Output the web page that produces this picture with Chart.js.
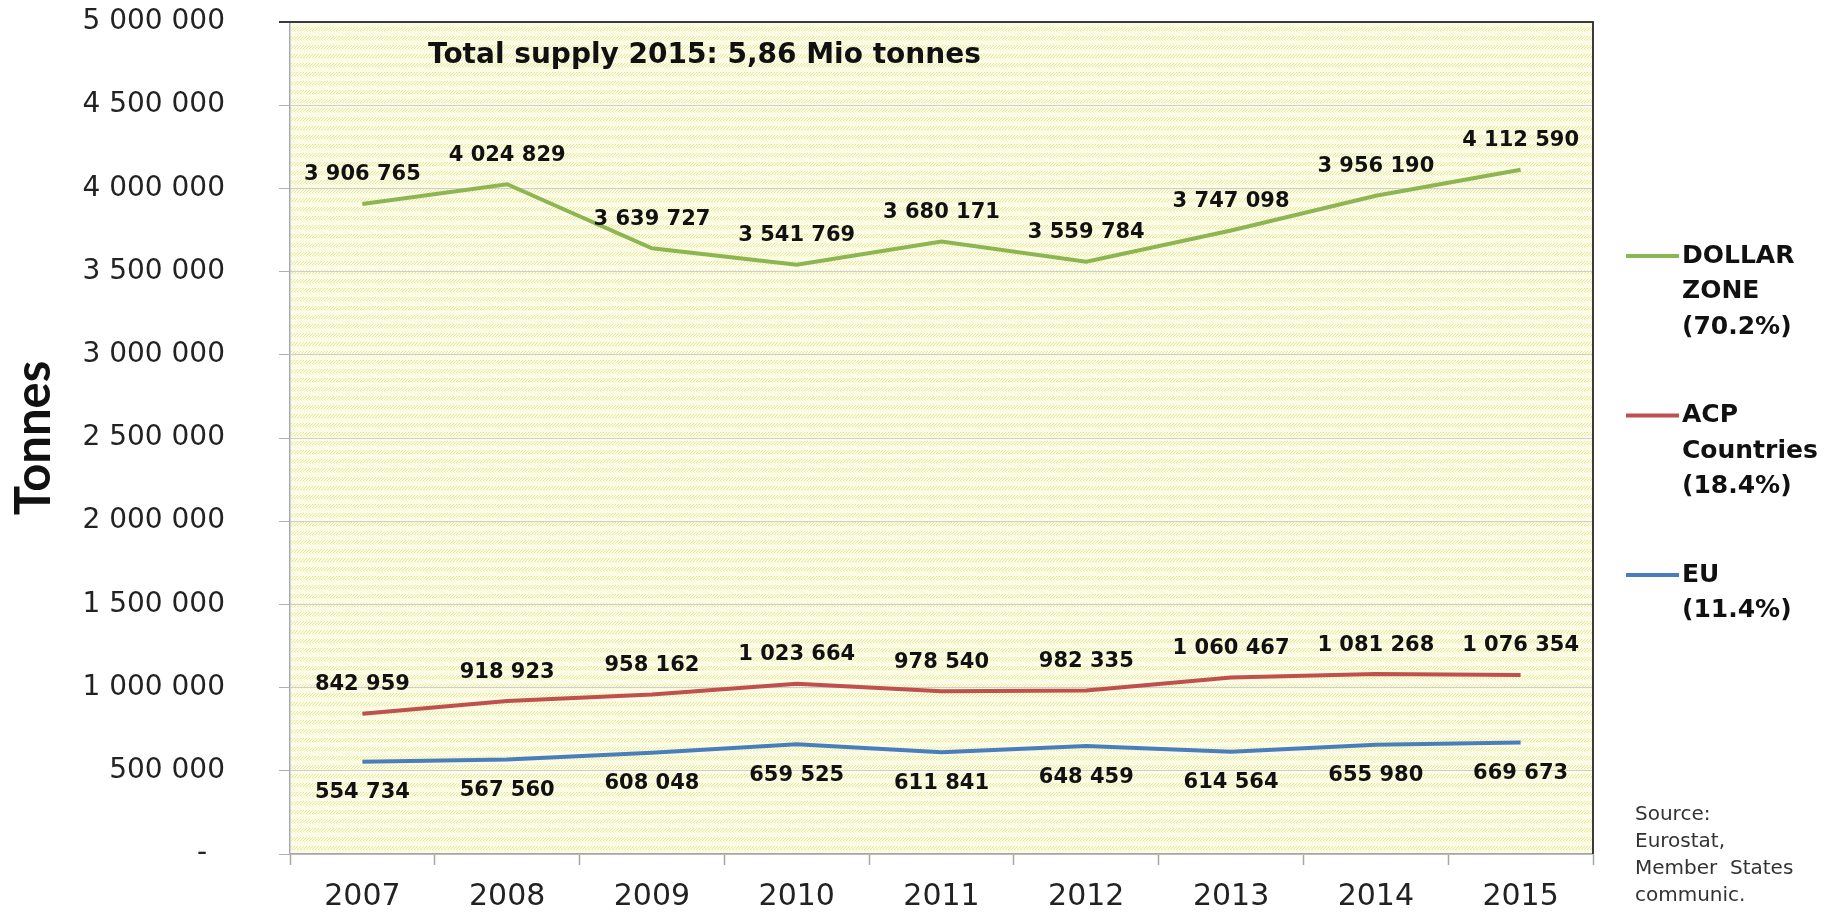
<!DOCTYPE html>
<html>
<head>
<meta charset="utf-8">
<script src="https://cdn.jsdelivr.net/npm/chart.js@4.4.0/dist/chart.umd.min.js"></script>
<style>
  body { margin: 0; background: #fff; }
  #wrap { width: 1839px; height: 913px; }
</style>
</head>
<body>
<div id="wrap"><canvas id="supply" width="1839" height="913"></canvas></div>
<script>
const years = ["2007", "2008", "2009", "2010", "2011", "2012", "2013", "2014", "2015"];

const dollarZone = [3906765, 4024829, 3639727, 3541769, 3680171, 3559784, 3747098, 3956190, 4112590];
const acpCountries = [842959, 918923, 958162, 1023664, 978540, 982335, 1060467, 1081268, 1076354];
const eu = [554734, 567560, 608048, 659525, 611841, 648459, 614564, 655980, 669673];

const legendLines = [
  ["DOLLAR", "ZONE", "(70.2%)"],
  ["ACP", "Countries", "(18.4%)"],
  ["EU", "(11.4%)"],
];

const title = "Total supply 2015: 5,86 Mio tonnes";
const sourceLines = ["Source:", "Eurostat,", "Member  States", "communic."];

// thousands separated by spaces, like the original
const fmt = (v) => String(v).replace(/\B(?=(\d{3})+(?!\d))/g, " ");

// yellow hatched plot background
const tile = document.createElement("canvas");
tile.width = 9;
tile.height = 9;
const tc = tile.getContext("2d");
tc.fillStyle = "#fcfce6";
tc.fillRect(0, 0, 9, 9);
tc.fillStyle = "#e4ea9a";
for (let y = 0; y < 4; y++) {
  for (let x = 0; x < 9; x++) {
    if ((x + y) % 3 === 0) tc.fillRect(x, y, 1, 1);
  }
}
tc.fillStyle = "#f2f5c6";
for (let x = 0; x < 9; x++) if (x % 3 === 1) tc.fillRect(x, 4, 1, 1);

const ctx = document.getElementById("supply");
const hatch = ctx.getContext("2d").createPattern(tile, "repeat");

const bgPlugin = {
  id: "plotBg",
  beforeDraw(chart) {
    const { ctx, chartArea: a } = chart;
    ctx.save();
    ctx.fillStyle = hatch;
    ctx.fillRect(a.left, a.top, a.right - a.left, a.bottom - a.top);
    ctx.restore();
  },
  afterDraw(chart) {
    const { ctx, chartArea: a } = chart;
    ctx.save();
    // top and right frame
    ctx.strokeStyle = "#3a3a3a";
    ctx.lineWidth = 2;
    ctx.beginPath();
    ctx.moveTo(a.left - 11, a.top);
    ctx.lineTo(a.right, a.top);
    ctx.lineTo(a.right, a.bottom);
    ctx.stroke();

    // title
    ctx.fillStyle = "#111";
    ctx.font = "bold 28px 'DejaVu Sans'";
    ctx.textAlign = "left";
    ctx.textBaseline = "middle";
    ctx.fillText(title, 428, 56);

    // legend
    const x0 = 1626;
    ctx.font = "bold 25px 'DejaVu Sans'";
    chart.data.datasets.forEach((ds, i) => {
      const y0 = 256 + i * 159.5;
      ctx.strokeStyle = ds.borderColor;
      ctx.lineWidth = 4;
      ctx.beginPath();
      ctx.moveTo(x0, y0);
      ctx.lineTo(x0 + 53, y0);
      ctx.stroke();
      legendLines[i].forEach((t, k) => {
        ctx.fillText(t, x0 + 56, y0 + k * 35.7);
      });
    });

    // source
    ctx.fillStyle = "#333";
    ctx.font = "20px 'DejaVu Sans'";
    sourceLines.forEach((t, k) => ctx.fillText(t, 1635, 815 + k * 27));
    ctx.restore();
  },
};

const labelPlugin = {
  id: "pointLabels",
  afterDatasetsDraw(chart) {
    const { ctx } = chart;
    ctx.save();
    ctx.font = "bold 21px 'DejaVu Sans'";
    ctx.fillStyle = "#111";
    ctx.textAlign = "center";
    ctx.textBaseline = "middle";
    chart.data.datasets.forEach((ds, i) => {
      const meta = chart.getDatasetMeta(i);
      const below = ds.labelBelow;
      meta.data.forEach((pt, j) => {
        const y = below ? pt.y + 31 : pt.y - 29;
        ctx.fillText(fmt(ds.data[j]), pt.x, y);
      });
    });
    ctx.restore();
  },
};

new Chart(ctx, {
  type: "line",
  data: {
    labels: years,
    datasets: [
      {
        label: "DOLLAR ZONE (70.2%)",
        data: dollarZone,
        borderColor: "#8db552",
        borderWidth: 4,
        pointRadius: 0,
        tension: 0,
      },
      {
        label: "ACP Countries (18.4%)",
        data: acpCountries,
        borderColor: "#c0504d",
        borderWidth: 4,
        pointRadius: 0,
        tension: 0,
      },
      {
        label: "EU (11.4%)",
        data: eu,
        borderColor: "#4a7ebb",
        borderWidth: 4,
        pointRadius: 0,
        tension: 0,
        labelBelow: true,
      },
    ],
  },
  options: {
    responsive: false,
    animation: false,
    layout: { autoPadding: false, padding: { top: 22, right: 246, left: 0, bottom: 0 } },
    plugins: {
      legend: { display: false },
      tooltip: { enabled: false },
    },
    scales: {
      x: {
        offset: true,
        grid: {
          offset: true,
          drawOnChartArea: false,
          tickLength: 11,
          tickColor: "#a6a6a6",
          tickWidth: 1.5,
        },
        border: { color: "#a6a6a6", width: 1.5 },
        ticks: {
          color: "#222",
          padding: 14,
          font: { family: "'DejaVu Sans'", size: 30 },
        },
        afterFit(axis) {
          axis.height = 59;
          axis.paddingLeft = 0;
          axis.paddingRight = 0;
        },
      },
      y: {
        min: 0,
        max: 5000000,
        ticks: {
          stepSize: 500000,
          color: "#222",
          padding: 54,
          font: { family: "'DejaVu Sans'", size: 28 },
          callback: (v) => (v === 0 ? "-  " : fmt(v)),
        },
        grid: {
          color: "#cfcfcf",
          lineWidth: 1,
          tickLength: 11,
          tickColor: "#b0b0b0",
        },
        border: { color: "#a9a9bd", width: 1.5 },
        title: {
          display: true,
          text: "Tonnes",
          color: "#111",
          padding: { top: 5 },
          font: { family: "Lato", size: 49, weight: "bold" },
        },
        afterFit(axis) {
          // the big label gap must not push the plot down
          axis.width = 290;
          axis.paddingTop = 0;
          axis.paddingBottom = 0;
        },
      },
    },
  },
  plugins: [bgPlugin, labelPlugin],
});
</script>
</body>
</html>
